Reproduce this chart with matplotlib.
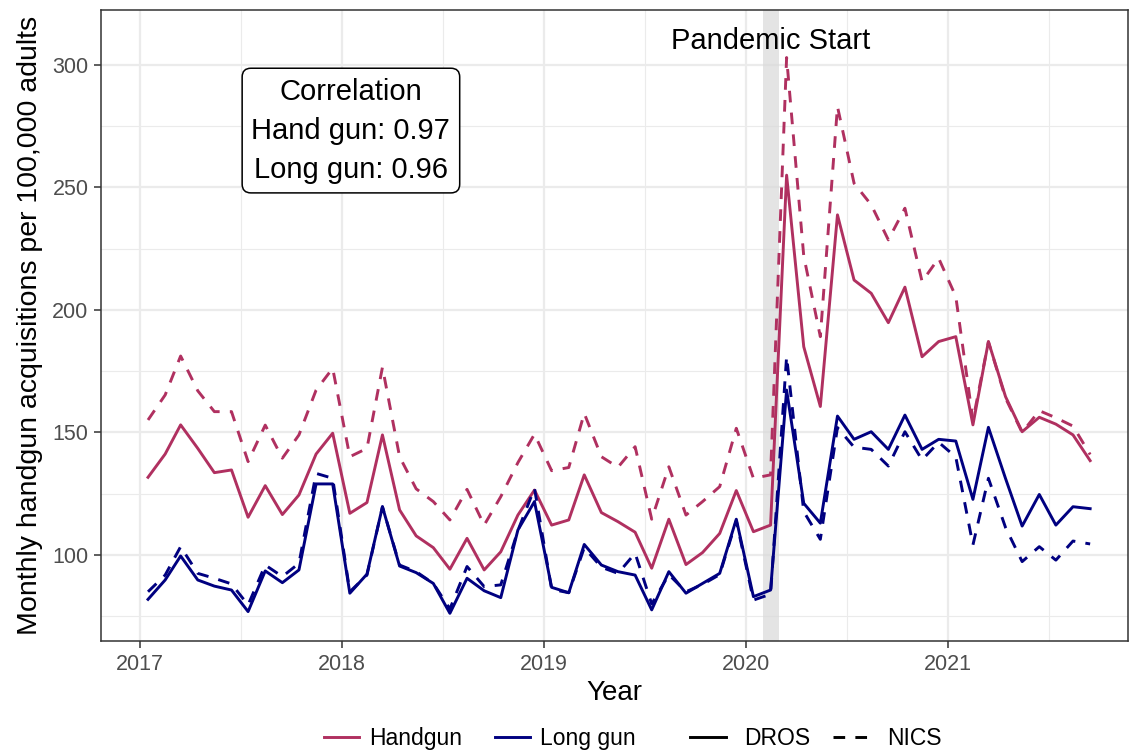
import matplotlib
matplotlib.use("Agg")
import matplotlib.pyplot as plt
import matplotlib.dates as mdates
from matplotlib.lines import Line2D
import pandas as pd
import numpy as np

plt.rcParams['font.family'] = ['Liberation Sans', 'DejaVu Sans']

# ---- data (monthly, Jan 2017 - Sep 2021) ----
months = pd.date_range("2017-01-01", "2021-09-01", freq="MS") + pd.Timedelta(days=14)

handgun_dros = [131.7, 141.2, 153.1, 143.5, 133.6, 134.7, 115.4, 128.3, 116.5, 124.5, 141.2, 149.7,
                117.0, 121.4, 149.0, 118.4, 107.8, 103.0, 94.2, 106.8, 93.9, 101.3, 116.3, 126.5,
                112.2, 114.3, 132.7, 117.3, 113.6, 109.3, 94.6, 114.6, 96.1, 101.0, 108.8, 126.3,
                109.5, 112.2, 255.0, 185.0, 160.6, 238.8, 212.2, 206.8, 194.8, 209.3, 180.9, 187.1,
                189.1, 153.1, 187.1, 164.6, 150.3, 156.2, 153.4, 149.0, 138.5]
handgun_nics = [155.1, 165.3, 181.2, 167.0, 158.5, 158.5, 138.1, 153.0, 139.5, 149.0, 167.3, 176.2,
                140.1, 143.5, 176.6, 140.1, 127.0, 121.8, 114.3, 126.8, 112.2, 123.8, 137.7, 149.3,
                134.4, 135.7, 157.8, 140.1, 135.8, 144.2, 114.6, 136.0, 116.3, 121.8, 127.9, 151.7,
                131.3, 132.7, 303.0, 222.0, 189.1, 283.0, 251.7, 242.9, 228.6, 241.5, 211.6, 221.1,
                205.5, 155.0, 187.0, 164.0, 150.0, 158.9, 156.0, 152.6, 141.0]
longgun_dros = [81.9, 89.8, 99.6, 89.8, 87.3, 85.7, 76.9, 93.5, 88.7, 93.9, 129.0, 129.0,
                84.4, 92.2, 119.7, 95.5, 92.8, 88.4, 76.2, 90.5, 85.4, 82.6, 110.2, 121.8,
                86.8, 84.6, 104.3, 95.9, 93.2, 91.8, 77.6, 93.2, 84.4, 88.4, 92.5, 114.6,
                83.0, 85.7, 167.3, 121.1, 113.0, 156.7, 147.2, 150.3, 143.1, 157.1, 143.1, 147.2,
                146.5, 122.7, 152.1, 131.2, 111.8, 124.7, 112.2, 119.7, 118.9]
longgun_nics = [85.0, 91.8, 103.4, 92.5, 90.5, 88.2, 79.6, 95.9, 91.2, 96.6, 133.3, 131.3,
                85.0, 91.8, 119.7, 95.9, 93.2, 88.4, 78.0, 95.3, 87.1, 87.8, 110.0, 127.2,
                86.0, 84.6, 103.0, 95.0, 92.5, 100.7, 80.0, 92.0, 85.0, 88.0, 92.0, 114.0,
                81.6, 84.0, 181.0, 117.7, 106.4, 152.0, 144.0, 143.1, 136.3, 150.3, 138.8, 146.0,
                140.0, 104.1, 131.3, 111.2, 97.3, 103.4, 97.9, 105.7, 104.5]

corr_lines = ["Correlation", "Hand gun: 0.97", "Long gun: 0.96"]
pandemic_start = pd.Timestamp("2020-02-01")
pandemic_end = pd.Timestamp("2020-03-01")
year_ticks = [pd.Timestamp(f"{y}-01-01") for y in range(2017, 2022)]
y_ticks = [100, 150, 200, 250, 300]

HAND = "#B03060"
LONG = "#000080"

fig = plt.figure(figsize=(11.3, 7.52), dpi=100)
ax = fig.add_axes([0.0894, 0.1476, 0.9086, 0.8391])

# grid
ax.set_axisbelow(True)
for y in np.arange(75, 326, 25):
    major = (y % 50 == 0)
    ax.axhline(y, color="#EBEBEB", lw=1.6 if major else 0.8, zorder=0)
for yr in range(2017, 2022):
    ax.axvline(pd.Timestamp(f"{yr}-01-01"), color="#EBEBEB", lw=1.6, zorder=0)
for yr in range(2016, 2022):
    ax.axvline(pd.Timestamp(f"{yr}-07-02"), color="#EBEBEB", lw=0.8, zorder=0)

ax.axvspan(pandemic_start, pandemic_end, color="#D9D9D9", alpha=0.7, lw=0, zorder=1)

lw = 2.1
dash = (0, (4, 3.5))
ax.plot(months, handgun_dros, color=HAND, lw=lw, zorder=3)
ax.plot(months, handgun_nics, color=HAND, lw=lw, ls=dash, zorder=3)
ax.plot(months, longgun_dros, color=LONG, lw=lw, zorder=3)
ax.plot(months, longgun_nics, color=LONG, lw=lw, ls=dash, zorder=3)

ax.text(pandemic_start + (pandemic_end - pandemic_start) / 2, 309.8, "Pandemic Start",
        ha="center", va="center", fontsize=21, color="black", zorder=4)

ax.text(pd.Timestamp("2018-01-17"), 273.2, "\n".join(corr_lines), ha="center", va="center",
        fontsize=21, linespacing=1.5, zorder=5,
        bbox=dict(boxstyle="round,pad=0.32,rounding_size=0.3", fc="white", ec="black", lw=1.1))

ax.set_xlim(pd.Timestamp("2016-10-22"), pd.Timestamp("2021-11-22"))
ax.set_ylim(64.9, 322.4)

ax.set_xticks(year_ticks)
ax.xaxis.set_major_formatter(mdates.DateFormatter("%Y"))
ax.set_yticks(y_ticks)
ax.tick_params(axis="both", labelsize=15.5, labelcolor="#4D4D4D", color="#333333",
               length=5, width=1.1, direction="out", pad=4)
for s in ax.spines.values():
    s.set_color("#333333")
    s.set_linewidth(1.1)

ax.set_xlabel("Year", fontsize=20, labelpad=4)
ax.set_ylabel("Monthly handgun acquisitions per 100,000 adults", fontsize=20.5, labelpad=7)

# legends
h1 = [Line2D([], [], color=HAND, lw=lw), Line2D([], [], color=LONG, lw=lw)]
leg1 = fig.legend(h1, ["Handgun", "Long gun"], loc="center", bbox_to_anchor=(0.4246, 0.0175),
                  ncol=2, frameon=False, fontsize=16.5, handlelength=1.55, handletextpad=0.45,
                  columnspacing=1.4, borderaxespad=0, borderpad=0)
h2 = [Line2D([], [], color="black", lw=lw), Line2D([], [], color="black", lw=lw, ls=dash)]
leg2 = fig.legend(h2, ["DROS", "NICS"], loc="center", bbox_to_anchor=(0.722, 0.0175),
                  ncol=2, frameon=False, fontsize=16.5, handlelength=1.55, handletextpad=0.8,
                  columnspacing=1.0, borderaxespad=0, borderpad=0)

fig.savefig("out.png", dpi=100)
